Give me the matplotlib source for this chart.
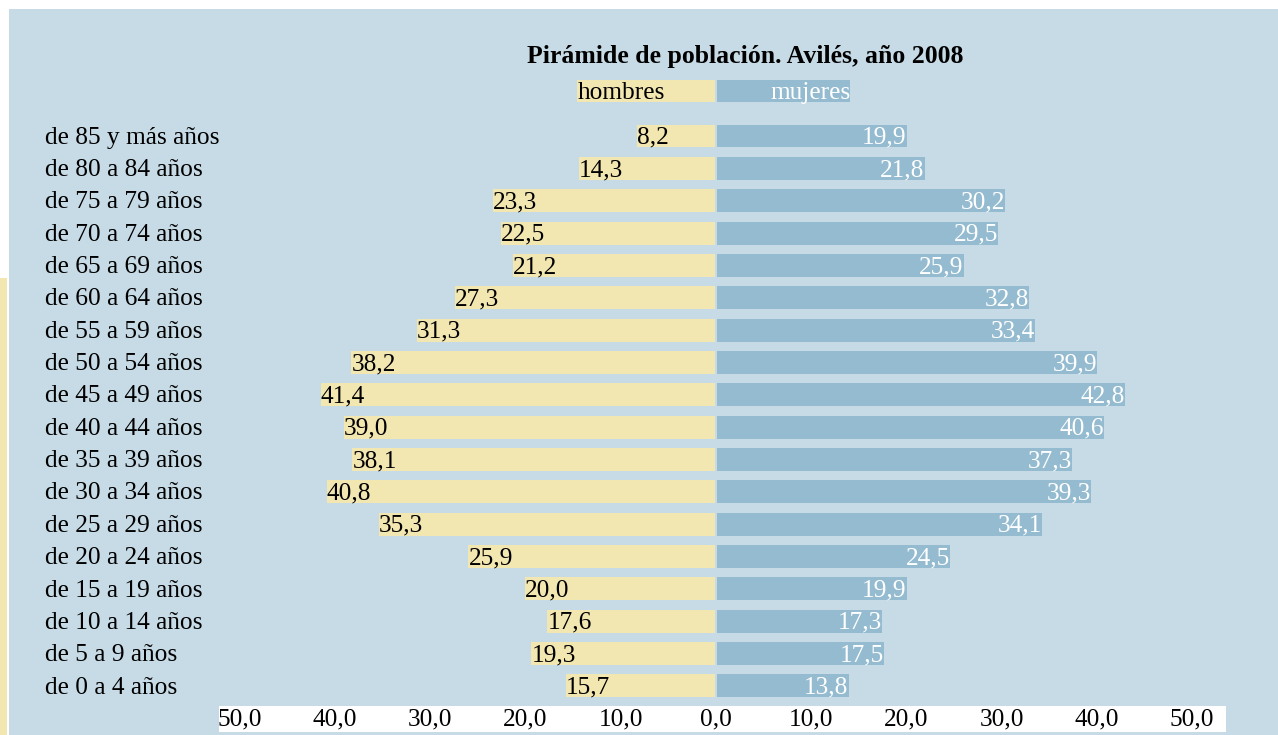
import matplotlib.pyplot as plt
import matplotlib.patches as patches
import matplotlib.transforms as transforms

grupos = ['de 85 y más años', 'de 80 a 84 años', 'de 75 a 79 años', 'de 70 a 74 años',
          'de 65 a 69 años', 'de 60 a 64 años', 'de 55 a 59 años', 'de 50 a 54 años',
          'de 45 a 49 años', 'de 40 a 44 años', 'de 35 a 39 años', 'de 30 a 34 años',
          'de 25 a 29 años', 'de 20 a 24 años', 'de 15 a 19 años', 'de 10 a 14 años',
          'de 5 a 9 años', 'de 0 a 4 años']
hombres = [8.2, 14.3, 23.3, 22.5, 21.2, 27.3, 31.3, 38.2, 41.4, 39.0, 38.1, 40.8,
           35.3, 25.9, 20.0, 17.6, 19.3, 15.7]
mujeres = [19.9, 21.8, 30.2, 29.5, 25.9, 32.8, 33.4, 39.9, 42.8, 40.6, 37.3, 39.3,
           34.1, 24.5, 19.9, 17.3, 17.5, 13.8]
ticks = [-50, -40, -30, -20, -10, 0, 10, 20, 30, 40, 50]

azul_fondo = '#c7dbe6'
amarillo = '#f2e6b1'
azul_barra = '#94bbd0'
fuente = 'Liberation Serif'
fs = 18.3

W, H = 1278, 735
fig = plt.figure(figsize=(W / 100, H / 100), dpi=100)
fig.patch.set_facecolor('white')

# fondo azul, franja amarilla a la izquierda y banda blanca del eje
for (x0, y0, w, h, c) in [(9, 0, W - 9, H - 9, azul_fondo),
                          (0, 0, 7, H - 278, amarillo),
                          (219, H - 732, 1226 - 219, 26, 'white')]:
    fig.patches.append(patches.Rectangle((x0 / W, y0 / H), w / W, h / H, lw=0,
                                         transform=fig.transFigure, color=c, zorder=-5))

# eje: -50 -> px 240, 50 -> px 1192 ; filas: centro fila 0 en px 136, paso 32.35
top_px, bot_px = 60, 706
paso = 32.35
ax = fig.add_axes([240 / W, (H - bot_px) / H, (1192 - 240) / W, (bot_px - top_px) / H])
ax.set_zorder(2)
ax.set_facecolor('none')
ax.set_xlim(-50, 50)
ax.set_ylim((bot_px - 136) / paso, (top_px - 136) / paso)
for s in ax.spines.values():
    s.set_visible(False)

y = list(range(len(grupos)))
alto = 0.71
ax.barh(y, [-h for h in hombres], height=alto, color=amarillo, left=-0.1)
ax.barh(y, mujeres, height=alto, color=azul_barra, left=0.12)

for i in y:
    ax.text(-hombres[i] - 0.1, i + 0.05, f'{hombres[i]:.1f}'.replace('.', ','),
            ha='left', va='center', fontsize=fs, family=fuente, color='black')
    ax.text(mujeres[i] + 0.12, i + 0.05, f'{mujeres[i]:.1f}'.replace('.', ','),
            ha='right', va='center', fontsize=fs, family=fuente, color='white')

# leyenda como una fila más
yl = (91 - 136) / paso
ax.barh([yl], [-14.45], height=alto, color=amarillo, left=-0.1)
ax.barh([yl], [14.0], height=alto, color=azul_barra, left=0.12)
ax.text(-14.55, yl + 0.05, 'hombres', ha='left', va='center', fontsize=fs, family=fuente)
ax.text(14.12, yl + 0.05, 'mujeres', ha='right', va='center', fontsize=fs,
        family=fuente, color='white')

# etiquetas de grupos
tr = transforms.blended_transform_factory(fig.transFigure, ax.transData)
for i, g in enumerate(grupos):
    ax.text(45 / W, i + 0.05, g, transform=tr, ha='left', va='center',
            fontsize=fs, family=fuente)

ax.set_yticks([])
ax.set_xticks(ticks)
ax.set_xticklabels([f'{abs(t):.1f}'.replace('.', ',') for t in ticks],
                   fontsize=fs, family=fuente)
ax.tick_params(axis='x', length=0, pad=2)

fig.text(745 / W, 1 - 57 / H, 'Pirámide de población. Avilés, año 2008',
         ha='center', va='center', fontsize=18.5, fontweight='bold', family=fuente)

fig.savefig('out.png', dpi=100)
